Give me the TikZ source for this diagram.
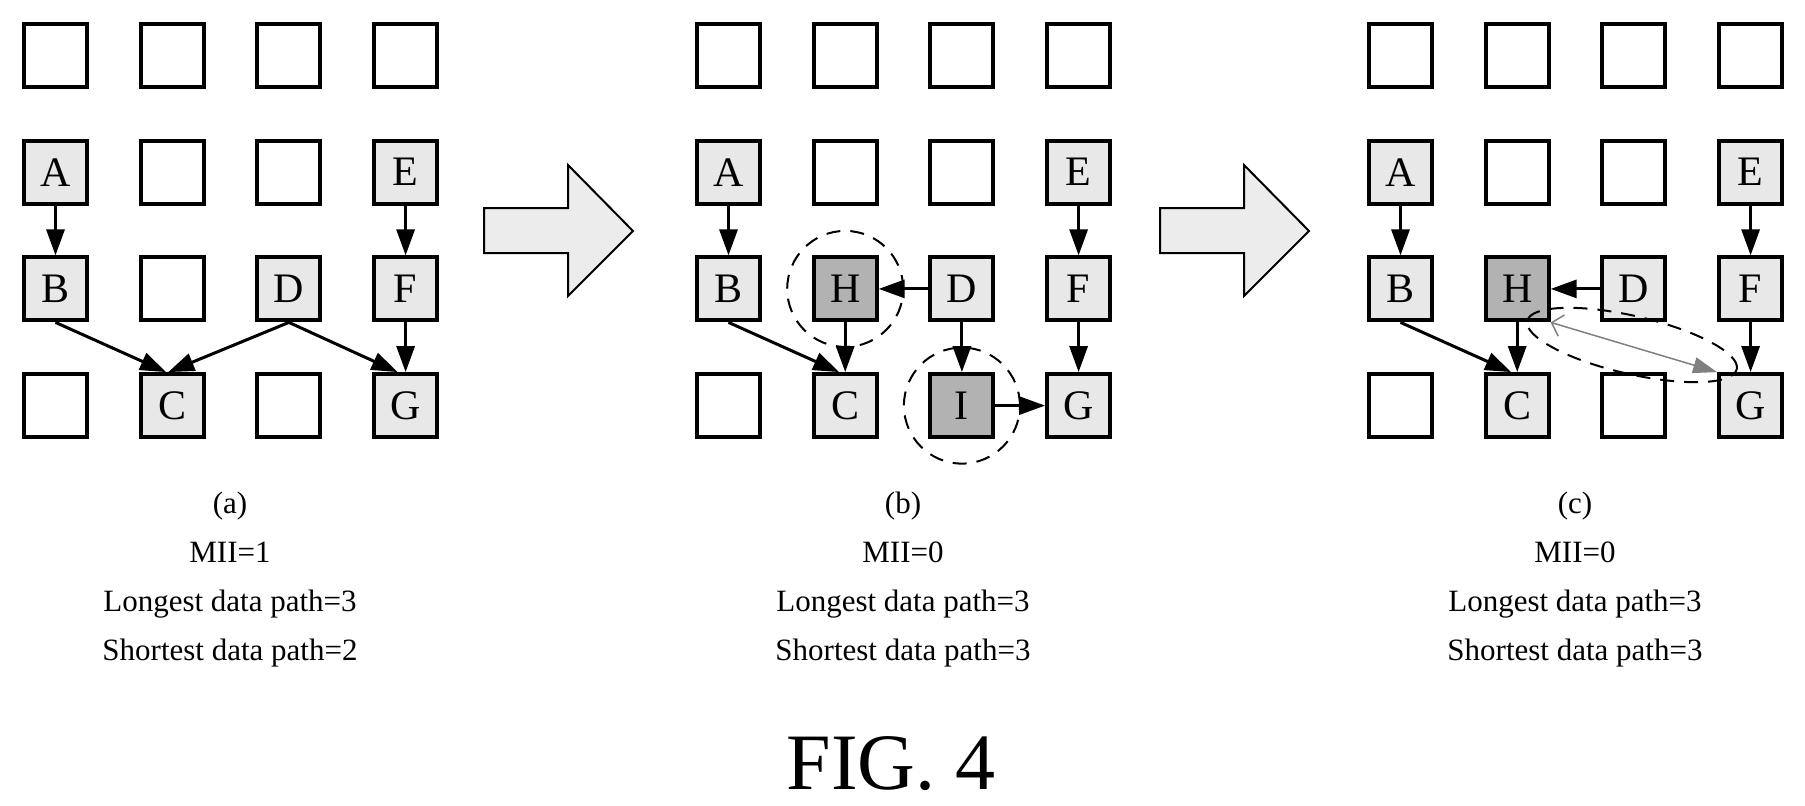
\documentclass[tikz,border=0pt]{standalone}
\usepackage{fontspec}
\setmainfont{Liberation Serif}
\usetikzlibrary{arrows.meta,positioning,shapes.geometric}

\tikzset{
  pe/.style={draw,line width=4pt,minimum size=63pt,inner sep=0pt,fill=white},
  pu/.style={pe,fill=gray!18,font=\fontsize{42}{42}\selectfont},
  pn/.style={pu,fill=gray!60},
  dep/.style={line width=3pt,-{Triangle[length=26pt,width=18pt]}},
  panelcap/.style={align=center,font=\fontsize{31}{49}\selectfont},
  pering/.style={draw,dashed,line width=2pt,dash pattern=on 14pt off 10pt},
  bigstep/.style={draw,line width=2pt,fill=gray!15}
}

% grid of processing elements, named <panel><row><col>
\newcommand{\pegrid}[1]{%
  \foreach \r in {1,...,4}
    \foreach \c in {1,...,4}
      \node[pe] (#1\r\c) at ({33.5+116.7*(\c-1)},{55.5+116.7*(\r-1)}) {};}

\begin{document}
\begin{tikzpicture}[x=1pt,y=-1pt]
    \useasboundingbox (0,0) rectangle (1805,806);

    % panel (a)
    \begin{scope}[xshift=22pt]
    \pegrid{a}
    \node[pu] (aA) at (a21) {A};
    \node[pu] (aE) at (a24) {E};
    \node[pu] (aB) at (a31) {B};
    \node[pu] (aD) at (a33) {D};
    \node[pu] (aF) at (a34) {F};
    \node[pu] (aC) at (a42) {C};
    \node[pu] (aG) at (a44) {G};
    \draw[dep] (aA) -- (aB);
    \draw[dep] (aE) -- (aF);
    \draw[dep] (aB.south) -- ([xshift=-6pt]aC.north);
    \draw[dep] (aD.south) -- ([xshift=-4pt]aC.north);
    \draw[dep] (aD.south) -- ([xshift=-8pt]aG.north);
    \draw[dep] (aF) -- (aG);
    \node[panelcap] (acap) at (208,580) {(a)\\MII=1\\Longest data path=3\\Shortest data path=2};
    \end{scope}

    % panel (b)
    \begin{scope}[xshift=695pt]
    \pegrid{b}
    \node[pu] (bA) at (b21) {A};
    \node[pu] (bE) at (b24) {E};
    \node[pu] (bB) at (b31) {B};
    \node[pn] (bH) at (b32) {H};
    \node[pu] (bD) at (b33) {D};
    \node[pu] (bF) at (b34) {F};
    \node[pu] (bC) at (b42) {C};
    \node[pn] (bI) at (b43) {I};
    \node[pu] (bG) at (b44) {G};
    \node[pering,circle,minimum size=116pt] (bHring) at (bH) {};
    \node[pering,circle,minimum size=116pt] (bIring) at (bI) {};
    \draw[dep] (bA) -- (bB);
    \draw[dep] (bE) -- (bF);
    \draw[dep] (bB.south) -- ([xshift=-6pt]bC.north);
    \draw[dep] (bD) -- (bH);
    \draw[dep] (bH) -- (bC);
    \draw[dep] (bD) -- (bI);
    \draw[dep] (bI) -- (bG);
    \draw[dep] (bF) -- (bG);
    \node[panelcap] (bcap) at (208,580) {(b)\\MII=0\\Longest data path=3\\Shortest data path=3};
    \end{scope}

    % panel (c)
    \begin{scope}[xshift=1367pt]
    \pegrid{c}
    \node[pu] (cA) at (c21) {A};
    \node[pu] (cE) at (c24) {E};
    \node[pu] (cB) at (c31) {B};
    \node[pn] (cH) at (c32) {H};
    \node[pu] (cD) at (c33) {D};
    \node[pu] (cF) at (c34) {F};
    \node[pu] (cC) at (c42) {C};
    \node[pu] (cG) at (c44) {G};
    \node[pering,ellipse,minimum width=215pt,minimum height=58pt,rotate=-13] (cring) at (265,345) {};
    \draw[dep] (cA) -- (cB);
    \draw[dep] (cE) -- (cF);
    \draw[dep] (cB.south) -- ([xshift=-6pt]cC.north);
    \draw[dep] (cD) -- (cH);
    \draw[dep] (cH) -- (cC);
    \draw[dep] (cF) -- (cG);
    \draw[gray,line width=1.5pt,{Straight Barb[length=10pt,width=22pt]}-{Triangle[length=24pt,width=16pt]}]
      (cH.south east) -- (cG.north west);
    \node[panelcap] (ccap) at (208,580) {(c)\\MII=0\\Longest data path=3\\Shortest data path=3};
    \end{scope}

    % step arrows
    \foreach \s in {0,676}
      \draw[bigstep,xshift=\s pt] (484,208) -- (568,208) -- (568,165) -- (633,231)
        -- (568,296) -- (568,253) -- (484,253) -- cycle;

    \node[font=\fontsize{80}{80}\selectfont] (fig) at (891,764) {FIG. 4};
\end{tikzpicture}
\end{document}
